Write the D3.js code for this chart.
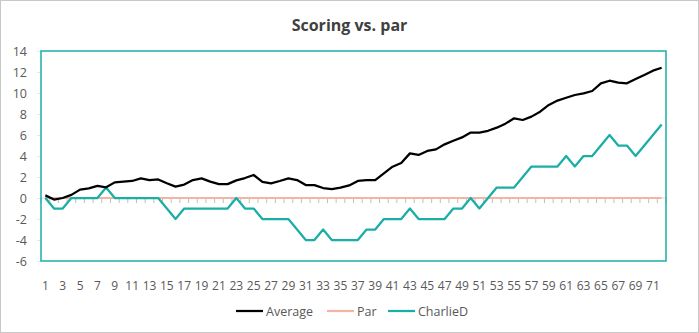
<!DOCTYPE html>
<html>
<head>
<meta charset="utf-8">
<script src="https://cdn.jsdelivr.net/npm/d3@7"></script>
<style>
  html, body { margin: 0; padding: 0; background: #fff; }
  svg { display: block; }
  text { font-family: "Open Sans", "Noto Sans", sans-serif; }
</style>
</head>
<body>
<svg id="chart" width="699" height="333"></svg>
<script>
const holes = d3.range(1, 73);
const average = [0.25, -0.15, 0.0, 0.3, 0.8, 0.92, 1.15, 1.02, 1.49, 1.56, 1.62, 1.87,
  1.7, 1.77, 1.4, 1.08, 1.28, 1.71, 1.87, 1.56, 1.32, 1.32, 1.68, 1.9,
  2.19, 1.54, 1.4, 1.62, 1.87, 1.71, 1.23, 1.23, 0.95, 0.85, 0.98, 1.2,
  1.62, 1.71, 1.71, 2.35, 2.98, 3.33, 4.25, 4.1, 4.48, 4.63, 5.11, 5.45,
  5.77, 6.23, 6.23, 6.4, 6.7, 7.08, 7.59, 7.43, 7.75, 8.22, 8.86, 9.28,
  9.55, 9.81, 9.97, 10.19, 10.92, 11.17, 10.98, 10.92, 11.33, 11.71, 12.13, 12.41];
const par = holes.map(() => 0);
const charlieD = [0, -1, -1, 0, 0, 0, 0, 1, 0, 0, 0, 0,
  0, 0, -1, -2, -1, -1, -1, -1, -1, -1, 0, -1,
  -1, -2, -2, -2, -2, -3, -4, -4, -3, -4, -4, -4,
  -4, -3, -3, -2, -2, -2, -1, -2, -2, -2, -2, -1,
  -1, 0, -1, 0, 1, 1, 1, 2, 3, 3, 3, 3,
  4, 3, 4, 4, 5, 6, 5, 5, 4, 5, 6, 7];
const yTicks = [-6, -4, -2, 0, 2, 4, 6, 8, 10, 12, 14];
const xLabels = holes.filter(h => h % 2 === 1);
const seriesNames = ["Average", "Par", "CharlieD"];
const seriesColors = ["#000000", "#f4b4a4", "#1aaea6"];
const seriesData = [average, par, charlieD];

const svg = d3.select("#chart");
const L = 41, R = 666, T = 51, B = 261;

svg.append("rect").attr("x", 0.5).attr("y", 0.5).attr("width", 698).attr("height", 332)
  .attr("fill", "#fff").attr("stroke", "#c8c8c8");

svg.append("text").attr("x", 349.5).attr("y", 31).attr("text-anchor", "middle")
  .attr("font-size", 16).attr("font-weight", "bold").attr("fill", "#404040")
  .text("Scoring vs. par");

const x = d3.scaleBand().domain(holes).range([L, R]).paddingInner(0).paddingOuter(0);
const xc = h => x(h) + x.bandwidth() / 2;
const y = d3.scaleLinear().domain([-6, 14]).range([B, T]);

// y axis ticks and labels
const yAxis = d3.axisLeft(y).tickValues(yTicks).tickSize(4).tickPadding(10).tickFormat(d3.format("d"));
const gy = svg.append("g").attr("transform", `translate(${L},0)`).call(yAxis);
gy.select(".domain").remove();
gy.selectAll(".tick line").attr("stroke", "#e6e6e6");
gy.selectAll(".tick text").attr("font-size", 12.5).attr("fill", "#595959")
  .attr("font-family", '"Open Sans", sans-serif').text(d => d < 0 ? "-" + Math.abs(d) : d);

// x axis at zero with ticks at category boundaries
const gx = svg.append("g");
gx.append("line").attr("x1", L).attr("x2", R).attr("y1", y(0)).attr("y2", y(0)).attr("stroke", "#d9d9d9");
gx.selectAll("line.tk").data(holes.concat([73])).join("line").attr("class", "tk")
  .attr("x1", h => h === 73 ? R : x(h)).attr("x2", h => h === 73 ? R : x(h))
  .attr("y1", y(0)).attr("y2", y(0) + 5).attr("stroke", "#bfbfbf");
gx.selectAll("text").data(xLabels).join("text")
  .attr("x", xc).attr("y", 290).attr("text-anchor", "middle")
  .attr("font-size", 12).attr("fill", "#595959").text(d => d);

// lines
const line = d3.line().x((d, i) => xc(holes[i])).y(d => y(d));
[1, 2, 0].forEach(k => {
  svg.append("path").datum(seriesData[k]).attr("d", line)
    .attr("fill", "none").attr("stroke", seriesColors[k])
    .attr("stroke-width", k === 1 ? 2 : 2.25).attr("stroke-linejoin", "round");
});

// plot border
svg.append("rect").attr("x", L).attr("y", T).attr("width", R - L).attr("height", B - T)
  .attr("fill", "none").attr("stroke", "#1aaea6").attr("stroke-width", 1.5);

// legend
const legX = [236, 327, 388];
const lg = svg.append("g");
seriesNames.forEach((n, i) => {
  lg.append("line").attr("x1", legX[i]).attr("x2", legX[i] + 27).attr("y1", 311).attr("y2", 311)
    .attr("stroke", seriesColors[i]).attr("stroke-width", 2.25);
  lg.append("text").attr("x", legX[i] + 30).attr("y", 315.5).attr("font-size", 12.5)
    .attr("fill", "#595959").text(n);
});
</script>
</body>
</html>
